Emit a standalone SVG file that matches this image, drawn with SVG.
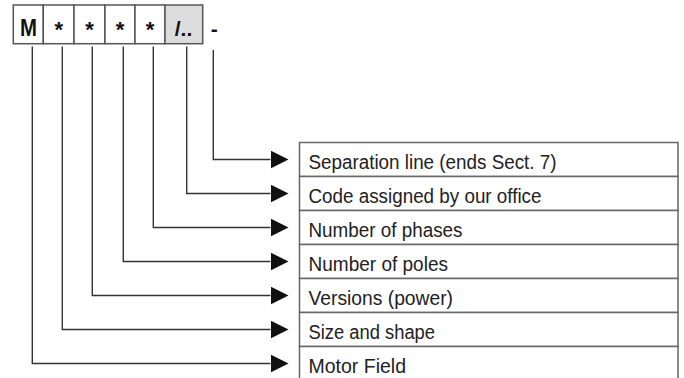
<svg xmlns="http://www.w3.org/2000/svg" width="684" height="378" viewBox="0 0 684 378">
<style>
.box{fill:#fff;stroke:#555;stroke-width:1.5}
.code{font-family:"Liberation Sans",Arial,sans-serif;font-weight:bold;fill:#111;text-anchor:middle}
.conn{fill:none;stroke:#333;stroke-width:1.4}
.row{fill:#fff;stroke:#666;stroke-width:1.5}
.lbl{font-family:"Liberation Sans",Arial,sans-serif;font-size:19.5px;fill:#222}
</style>
<defs>
<marker id="arr" markerUnits="userSpaceOnUse" markerWidth="20" markerHeight="20" refX="0" refY="9" orient="auto" viewBox="0 0 20 20">
<path d="M0,0 L18,9 L0,18 Z" fill="#111"/>
</marker>
</defs>
<rect width="684" height="378" fill="#fff"/>
<g id="code">
<g id="c-m"><rect class="box" x="13.3" y="5" width="30" height="38.7"/><text class="code" x="28.5" y="36" font-size="24.5" textLength="17" lengthAdjust="spacingAndGlyphs">M</text></g>
<g id="c-1"><rect class="box" x="43.3" y="5" width="30.7" height="38.7"/><text class="code" x="58.7" y="37" font-size="22">*</text></g>
<g id="c-2"><rect class="box" x="74" y="5" width="31" height="38.7"/><text class="code" x="89.5" y="37" font-size="22">*</text></g>
<g id="c-3"><rect class="box" x="105" y="5" width="30" height="38.7"/><text class="code" x="120" y="37" font-size="22">*</text></g>
<g id="c-4"><rect class="box" x="135" y="5" width="30" height="38.7"/><text class="code" x="150" y="37" font-size="22">*</text></g>
<g id="c-5"><rect class="box" x="165" y="5" width="37.7" height="38.7" style="fill:#dcdcdc"/><text class="code" x="183.5" y="35.5" font-size="21">/..</text></g>
<g id="c-6"><text class="code" x="214.3" y="36" font-size="21">-</text></g>
</g>
<g id="connectors">
<path class="conn" d="M213.3,50 V159.5 H270.5" marker-end="url(#arr)"/>
<path class="conn" d="M186.7,46.5 V193.5 H270.5" marker-end="url(#arr)"/>
<path class="conn" d="M153.3,46.5 V227.5 H270.5" marker-end="url(#arr)"/>
<path class="conn" d="M123.3,46.5 V261.5 H270.5" marker-end="url(#arr)"/>
<path class="conn" d="M92.3,46.5 V295.5 H270.5" marker-end="url(#arr)"/>
<path class="conn" d="M62.3,46.5 V329.5 H270.5" marker-end="url(#arr)"/>
<path class="conn" d="M32.3,46.5 V363.5 H270.5" marker-end="url(#arr)"/>
</g>
<g id="table">
<g id="r1"><rect class="row" x="299.5" y="142.5" width="378.5" height="34"/><text class="lbl" x="308.5" y="168.5" textLength="248" lengthAdjust="spacingAndGlyphs">Separation line (ends Sect. 7)</text></g>
<g id="r2"><rect class="row" x="299.5" y="176.5" width="378.5" height="34"/><text class="lbl" x="308.5" y="202.5" textLength="233" lengthAdjust="spacingAndGlyphs">Code assigned by our office</text></g>
<g id="r3"><rect class="row" x="299.5" y="210.5" width="378.5" height="34"/><text class="lbl" x="308.5" y="236.5" textLength="154" lengthAdjust="spacingAndGlyphs">Number of phases</text></g>
<g id="r4"><rect class="row" x="299.5" y="244.5" width="378.5" height="34"/><text class="lbl" x="308.5" y="270.5" textLength="139.5" lengthAdjust="spacingAndGlyphs">Number of poles</text></g>
<g id="r5"><rect class="row" x="299.5" y="278.5" width="378.5" height="34"/><text class="lbl" x="308.5" y="304.5" textLength="144.5" lengthAdjust="spacingAndGlyphs">Versions (power)</text></g>
<g id="r6"><rect class="row" x="299.5" y="312.5" width="378.5" height="34"/><text class="lbl" x="308.5" y="338.5" textLength="126.5" lengthAdjust="spacingAndGlyphs">Size and shape</text></g>
<g id="r7"><rect class="row" x="299.5" y="346.5" width="378.5" height="34"/><text class="lbl" x="308.5" y="372.5" textLength="97.5" lengthAdjust="spacingAndGlyphs">Motor Field</text></g>
</g>
</svg>
